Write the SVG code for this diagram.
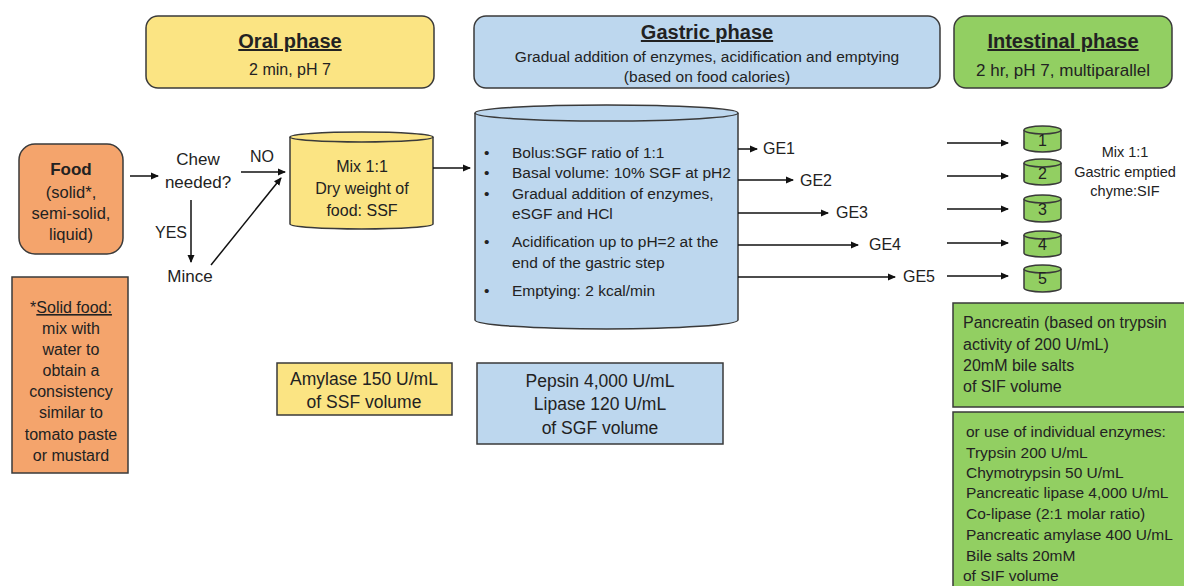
<svg xmlns="http://www.w3.org/2000/svg" width="1184" height="586" viewBox="0 0 1184 586">
<style>
text{font-family:"Liberation Sans",Arial,sans-serif;fill:#222;}
.t{font-size:16px;}
.m{font-size:15.5px;}
.c{text-anchor:middle;}
.h{font-size:20px;font-weight:bold;text-decoration:underline;text-anchor:middle;}
.s{font-size:16px;text-anchor:middle;}
.big{font-size:17.5px;}
.box{stroke:#3a3a3a;stroke-width:1.5;}
.y{fill:#FBE483;}
.b{fill:#BDD7EE;}
.g{fill:#92CF62;}
.o{fill:#F4A46C;}
.ln{stroke:#111;stroke-width:1.5;fill:none;marker-end:url(#ah);}
</style>
<defs>
<marker id="ah" markerWidth="8" markerHeight="8" refX="7" refY="4" orient="auto" markerUnits="userSpaceOnUse">
<path d="M0,0.5 L8,4 L0,7.5 Z" fill="#111"/>
</marker>
</defs>
<rect width="1184" height="586" fill="#fff"/>

<g id="oral-header">
<rect class="box y" x="146" y="16" width="288" height="72" rx="12"/>
<text class="h" x="290" y="48">Oral phase</text>
<text class="s" x="290" y="75">2 min, pH 7</text>
</g>
<g id="gastric-header">
<rect class="box b" x="474" y="16" width="466" height="72" rx="12"/>
<text class="h" x="707" y="39">Gastric phase</text>
<text class="c" x="707" y="62" style="font-size:15.5px">Gradual addition of enzymes, acidification and emptying</text>
<text class="c" x="707" y="82" style="font-size:15.5px">(based on food calories)</text>
</g>
<g id="intestinal-header">
<rect class="box g" x="954" y="16" width="218" height="72" rx="12"/>
<text class="h" x="1063" y="48">Intestinal phase</text>
<text class="s" x="1063" y="76" style="font-size:17px">2 hr, pH 7, multiparallel</text>
</g>

<g id="food">
<rect class="box o" x="19" y="144" width="104" height="110" rx="16"/>
<text class="t c" x="71" y="175" style="font-weight:bold;font-size:17px">Food</text>
<text class="t c" x="71" y="198" style="font-size:16.5px">(solid*,</text>
<text class="t c" x="71" y="219" style="font-size:16.5px">semi-solid,</text>
<text class="t c" x="71" y="240" style="font-size:16.5px">liquid)</text>
</g>
<g id="solid-note">
<rect class="box o" x="12" y="277" width="116" height="196"/>
<text class="t c" x="71" y="313"><tspan>*</tspan><tspan text-decoration="underline">Solid food:</tspan></text>
<text class="t c" x="71" y="334">mix with</text>
<text class="t c" x="71" y="355">water to</text>
<text class="t c" x="71" y="376">obtain a</text>
<text class="t c" x="71" y="397">consistency</text>
<text class="t c" x="71" y="418">similar to</text>
<text class="t c" x="71" y="440">tomato paste</text>
<text class="t c" x="71" y="461">or mustard</text>
</g>
<g id="chew">
<text class="t c" x="198" y="165" style="font-size:17px">Chew</text>
<text class="t c" x="198" y="188" style="font-size:17px">needed?</text>
</g>
<g id="mince">
<text class="t c" x="190" y="282" style="font-size:17px">Mince</text>
</g>

<g id="oral-cylinder">
<path class="box y" d="M290,137 L290,224 A71.5,5 0 0 0 433,224 L433,137"/>
<ellipse class="box y" cx="361.5" cy="137" rx="71.5" ry="5"/>
<text class="t c" x="362" y="172">Mix 1:1</text>
<text class="t c" x="362" y="194">Dry weight of</text>
<text class="t c" x="362" y="216">food: SSF</text>
</g>

<g id="gastric-cylinder">
<path class="box b" d="M475,113 L475,320 A131.5,9 0 0 0 738,320 L738,113"/>
<ellipse class="box b" cx="606.5" cy="113" rx="131.5" ry="8"/>
<g class="m">
<text x="484" y="158">•</text><text x="512" y="158">Bolus:SGF ratio of 1:1</text>
<text x="484" y="178">•</text><text x="512" y="178">Basal volume: 10% SGF at pH2</text>
<text x="484" y="199">•</text><text x="512" y="199">Gradual addition of enzymes,</text>
<text x="512" y="219">eSGF and HCl</text>
<text x="484" y="247">•</text><text x="512" y="247">Acidification up to pH=2 at the</text>
<text x="512" y="268">end of the gastric step</text>
<text x="484" y="296">•</text><text x="512" y="296">Emptying: 2 kcal/min</text>
</g>
</g>

<g id="amylase">
<rect class="box y" x="277" y="363" width="175" height="52"/>
<text class="big c" x="364" y="385">Amylase 150 U/mL</text>
<text class="big c" x="364" y="408">of SSF volume</text>
</g>
<g id="pepsin">
<rect class="box b" x="477" y="363" width="246" height="81"/>
<text class="big c" x="600" y="387">Pepsin 4,000 U/mL</text>
<text class="big c" x="600" y="410">Lipase 120 U/mL</text>
<text class="big c" x="600" y="434">of SGF volume</text>
</g>

<g id="ge-labels" class="t">
<text x="763" y="154">GE1</text>
<text x="800" y="186">GE2</text>
<text x="836" y="218">GE3</text>
<text x="869" y="250">GE4</text>
<text x="903" y="282">GE5</text>
</g>

<g id="intestinal-cylinders">
<g id="cyl1"><path class="box g" d="M1024,130 L1024,148 A18.5,4 0 0 0 1061,148 L1061,130"/><ellipse class="box g" cx="1042.5" cy="130" rx="18.5" ry="4"/><text class="t c" x="1042.5" y="146">1</text></g>
<g id="cyl2"><path class="box g" d="M1024,163 L1024,181 A18.5,4 0 0 0 1061,181 L1061,163"/><ellipse class="box g" cx="1042.5" cy="163" rx="18.5" ry="4"/><text class="t c" x="1042.5" y="179">2</text></g>
<g id="cyl3"><path class="box g" d="M1024,199 L1024,218 A18.5,4 0 0 0 1061,218 L1061,199"/><ellipse class="box g" cx="1042.5" cy="199" rx="18.5" ry="4"/><text class="t c" x="1042.5" y="215">3</text></g>
<g id="cyl4"><path class="box g" d="M1024,235 L1024,253 A18.5,4 0 0 0 1061,253 L1061,235"/><ellipse class="box g" cx="1042.5" cy="235" rx="18.5" ry="4"/><text class="t c" x="1042.5" y="250">4</text></g>
<g id="cyl5"><path class="box g" d="M1024,269 L1024,288 A18.5,4 0 0 0 1061,288 L1061,269"/><ellipse class="box g" cx="1042.5" cy="269" rx="18.5" ry="4"/><text class="t c" x="1042.5" y="284">5</text></g>
</g>
<g id="mix-note">
<text class="c" x="1125" y="157" style="font-size:14.5px">Mix 1:1</text>
<text class="c" x="1125" y="177" style="font-size:14.5px">Gastric emptied</text>
<text class="c" x="1125" y="196" style="font-size:14.5px">chyme:SIF</text>
</g>

<g id="pancreatin">
<rect class="box g" x="953" y="303" width="240" height="104"/>
<text class="t" x="963" y="328">Pancreatin (based on trypsin</text>
<text class="t" x="963" y="350">activity  of 200 U/mL)</text>
<text class="t" x="963" y="371">20mM bile salts</text>
<text class="t" x="963" y="392">of SIF volume</text>
</g>
<g id="individual-enzymes">
<rect class="box g" x="953" y="412" width="240" height="190"/>
<text class="m" x="966" y="437">or use of individual enzymes:</text>
<text class="m" x="966" y="458">Trypsin 200 U/mL</text>
<text class="m" x="966" y="478">Chymotrypsin 50 U/mL</text>
<text class="m" x="966" y="498">Pancreatic lipase 4,000 U/mL</text>
<text class="m" x="966" y="519">Co-lipase (2:1 molar ratio)</text>
<text class="m" x="966" y="540">Pancreatic amylase 400 U/mL</text>
<text class="m" x="966" y="561">Bile salts 20mM</text>
<text class="m" x="963" y="581">of SIF volume</text>
</g>

<g id="connectors">
<line class="ln" x1="130" y1="176" x2="158" y2="176"/>
<line class="ln" x1="241" y1="172" x2="285" y2="172"/>
<text class="c" x="262" y="162" style="font-size:16px">NO</text>
<line class="ln" x1="191" y1="200" x2="191" y2="262"/>
<text class="c" x="171" y="238" style="font-size:16px">YES</text>
<line class="ln" x1="211" y1="265" x2="281" y2="178"/>
<line class="ln" x1="433" y1="168" x2="470" y2="168"/>
<line class="ln" x1="738" y1="149" x2="757" y2="149"/>
<line class="ln" x1="738" y1="180" x2="793" y2="180"/>
<line class="ln" x1="738" y1="213" x2="828" y2="213"/>
<line class="ln" x1="738" y1="245" x2="858" y2="245"/>
<line class="ln" x1="738" y1="277" x2="895" y2="277"/>
<line class="ln" x1="947" y1="143" x2="1008" y2="143"/>
<line class="ln" x1="947" y1="176" x2="1008" y2="176"/>
<line class="ln" x1="947" y1="209" x2="1008" y2="209"/>
<line class="ln" x1="947" y1="243" x2="1008" y2="243"/>
<line class="ln" x1="947" y1="276" x2="1008" y2="276"/>
</g>
</svg>
